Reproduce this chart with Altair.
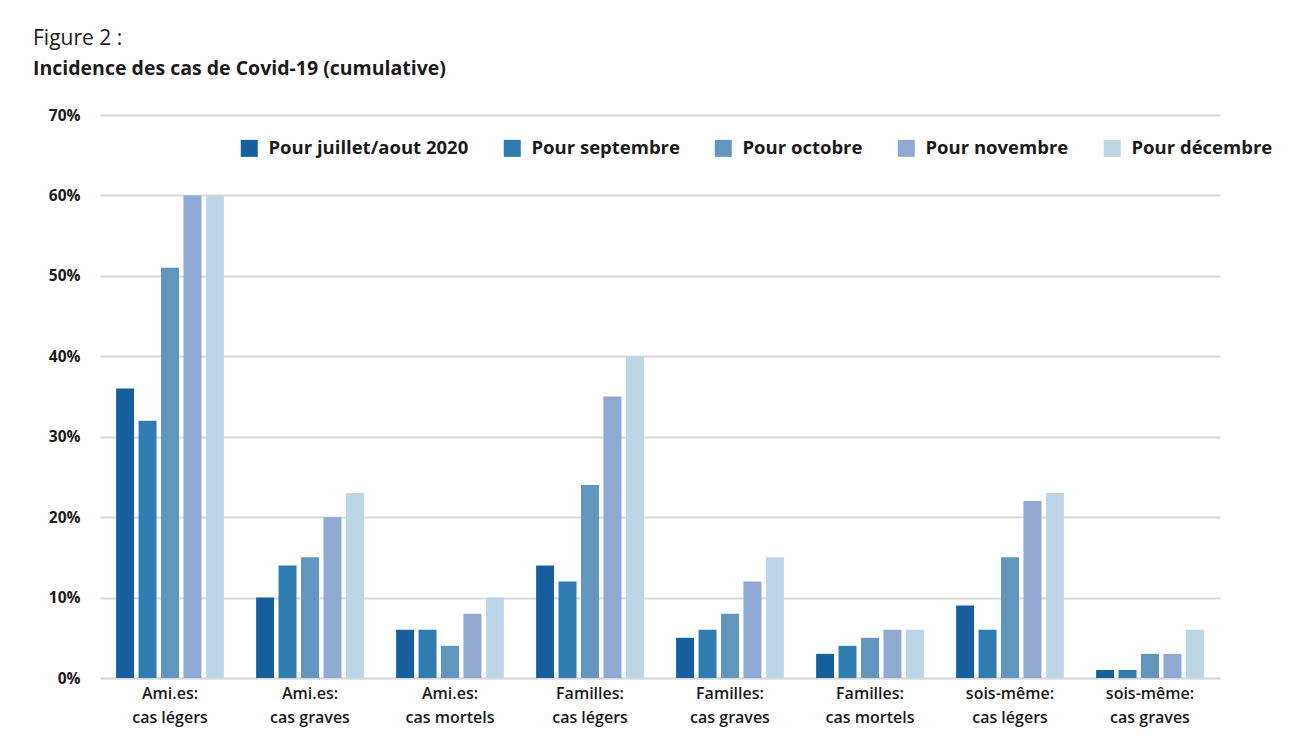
import altair as alt
import pandas as pd

categories = ["Ami.es: cas légers", "Ami.es: cas graves", "Ami.es: cas mortels",
              "Familles: cas légers", "Familles: cas graves", "Familles: cas mortels",
              "sois-même: cas légers", "sois-même: cas graves"]
series = ["Pour juillet/aout 2020", "Pour septembre", "Pour octobre",
          "Pour novembre", "Pour décembre"]
juillet_aout = [36, 10, 6, 14, 5, 3, 9, 1]
septembre = [32, 14, 6, 12, 6, 4, 6, 1]
octobre = [51, 15, 4, 24, 8, 5, 15, 3]
novembre = [60, 20, 8, 35, 12, 6, 22, 3]
decembre = [60, 23, 10, 40, 15, 6, 23, 6]
colors = ["#1660a0", "#2f7cb0", "#6197bf", "#8fa9d2", "#bcd6e6"]

rows = []
for s, vals in zip(series, [juillet_aout, septembre, octobre, novembre, decembre]):
    for c, v in zip(categories, vals):
        rows.append({"cat": c, "serie": s, "val": v / 100})
df = pd.DataFrame(rows)

FONT = "Open Sans"

chart = alt.Chart(df).mark_bar().encode(
    x=alt.X("cat:N", sort=categories, title=None,
            scale=alt.Scale(paddingInner=0.23, paddingOuter=0.115),
            axis=alt.Axis(labelAngle=0, ticks=False, domain=True, domainColor="#d9d9d9",
                          domainWidth=2, labelFontSize=16, labelFontWeight=600,
                          labelFont=FONT, labelColor="#1a1a1a", labelPadding=7,
                          labelLineHeight=24,
                          labelExpr="[split(datum.label, ': ')[0] + ':', split(datum.label, ': ')[1]]")),
    xOffset=alt.XOffset("serie:N", sort=series, scale=alt.Scale(paddingInner=0.2)),
    y=alt.Y("val:Q", title=None,
            scale=alt.Scale(domain=[0, 0.7]),
            axis=alt.Axis(format=".0%", values=[0, 0.1, 0.2, 0.3, 0.4, 0.5, 0.6, 0.7],
                          ticks=False, domain=False, gridColor="#d9d9d9", gridWidth=2,
                          labelFontSize=15.5, labelFontWeight="bold", labelFont=FONT,
                          labelColor="#1a1a1a", labelPadding=20)),
    color=alt.Color("serie:N", sort=series, title=None,
                    scale=alt.Scale(domain=series, range=colors),
                    legend=alt.Legend(orient="none", legendX=140, legendY=24,
                                      direction="horizontal", columns=5,
                                      symbolType="square", symbolSize=289,
                                      symbolStrokeWidth=0, labelFont=FONT,
                                      labelFontSize=18.5, labelFontWeight="bold",
                                      labelColor="#1a1a1a", columnPadding=34,
                                      labelOffset=10, labelLimit=300)),
).properties(
    width=1120, height=563,
    padding={"left": 92, "top": 107, "right": 68, "bottom": 60},
    autosize=alt.AutoSizeParams(type="none"),
    title=alt.TitleParams(text="Figure 2 :",
                          subtitle="Incidence des cas de Covid-19 (cumulative)",
                          anchor="start", frame="group", dx=-67, offset=30,
                          font=FONT, fontSize=21, fontWeight="normal", color="#1a1a1a",
                          subtitleFont=FONT, subtitleFontSize=19.5,
                          subtitleFontWeight="bold", subtitleColor="#1a1a1a",
                          subtitlePadding=11),
).configure_view(stroke=None)

chart.save("out.html", embed_options={"renderer": "svg", "actions": False})
